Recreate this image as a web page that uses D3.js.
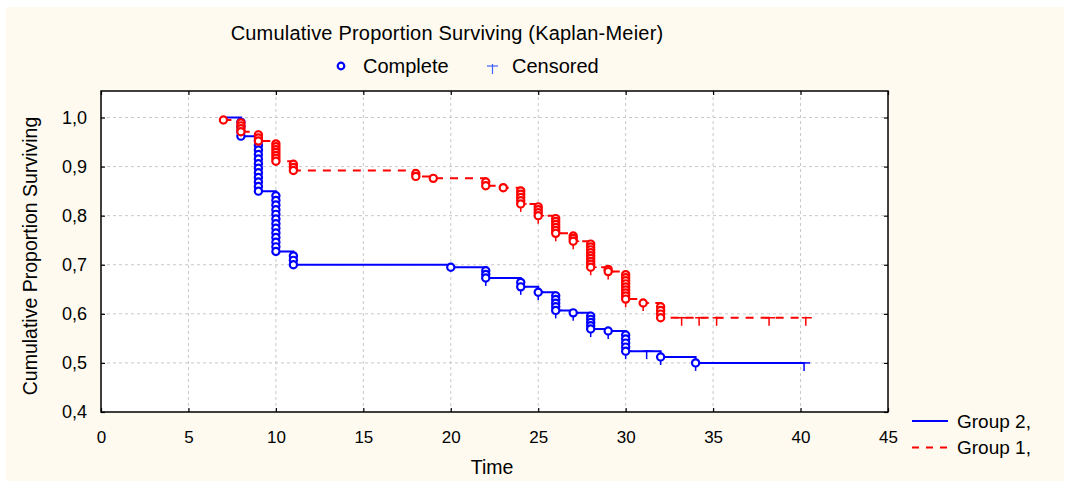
<!DOCTYPE html>
<html>
<head>
<meta charset="utf-8">
<script src="https://cdn.jsdelivr.net/npm/d3@7"></script>
<style>
  body { margin: 0; background: #ffffff; }
  text { font-family: "Liberation Sans", Arial, sans-serif; fill: #000; }
</style>
</head>
<body>
<div id="chart"></div>
<script>
// Group 2 (blue, solid) - step times, survival after the step, number of events at that time
const g2Times  = [7, 8, 9, 10, 11, 20, 22, 24, 25, 26, 27, 28, 29, 30, 32, 34];
const g2Surv   = [1.0, 0.962, 0.850, 0.727, 0.700, 0.695, 0.673, 0.655, 0.644, 0.607, 0.602, 0.569, 0.565, 0.524, 0.512, 0.500];
const g2Events = [0, 4, 12, 13, 3, 1, 3, 2, 1, 5, 1, 5, 1, 5, 1, 1];
const g2Censored = [22, 24, 25, 26, 27, 28, 29, 30, 31.2, 32, 34, 40.2];

// Group 1 (red, dashed)
const g1Times  = [7, 8, 9, 10, 11, 18, 19, 22, 23, 24, 25, 26, 27, 28, 29, 30, 31, 32];
const g1Surv   = [0.995, 0.971, 0.952, 0.911, 0.892, 0.880, 0.876, 0.861, 0.857, 0.824, 0.800, 0.764, 0.748, 0.695, 0.686, 0.630, 0.622, 0.592];
const g1Events = [1, 4, 3, 7, 3, 2, 1, 2, 1, 5, 4, 6, 3, 9, 2, 9, 1, 4];
const g1Censored = [24, 25, 26, 27, 28, 29, 30, 31, 33.2, 34.2, 35.2, 38.2, 40.3];

const xTicks = [0, 5, 10, 15, 20, 25, 30, 35, 40, 45];
const yTicks = [0.4, 0.5, 0.6, 0.7, 0.8, 0.9, 1.0];

const width = 1070, height = 488;
const plot = { left: 101, right: 888, top: 91, bottom: 412 };
const blue = "#0000ff", red = "#ff0000";

const svg = d3.select("#chart").append("svg")
    .attr("width", width)
    .attr("height", height);

// background panel
svg.append("rect")
    .attr("x", 6).attr("y", 7)
    .attr("width", 1058).attr("height", 474)
    .attr("fill", "#fefaef");

svg.append("rect")
    .attr("x", plot.left).attr("y", plot.top)
    .attr("width", plot.right - plot.left).attr("height", plot.bottom - plot.top)
    .attr("fill", "#ffffff");

const x = d3.scaleLinear().domain([0, 45]).range([plot.left, plot.right]);
const y = d3.scaleLinear().domain([0.4, 1.054]).range([plot.bottom, plot.top]);

// grid
svg.append("g").selectAll("line").data(xTicks.slice(1, -1)).join("line")
    .attr("x1", d => x(d)).attr("x2", d => x(d))
    .attr("y1", plot.top).attr("y2", plot.bottom)
    .attr("stroke", "#c8c8c8").attr("stroke-dasharray", "3,3");
svg.append("g").selectAll("line").data(yTicks.slice(1)).join("line")
    .attr("x1", plot.left).attr("x2", plot.right)
    .attr("y1", d => y(d)).attr("y2", d => y(d))
    .attr("stroke", "#c8c8c8").attr("stroke-dasharray", "3,3");

// axes
const fmt = d => d3.format(".1f")(d).replace(".", ",");
const xAxis = svg.append("g")
    .attr("transform", "translate(0," + plot.bottom + ")")
    .call(d3.axisBottom(x).tickValues(xTicks).tickSize(-4).tickPadding(19).tickFormat(d3.format("d")));
const xTop = svg.append("g")
    .attr("transform", "translate(0," + plot.top + ")")
    .call(d3.axisTop(x).tickValues(xTicks).tickSize(-4).tickFormat(""));
const yAxis = svg.append("g")
    .attr("transform", "translate(" + plot.left + ",0)")
    .call(d3.axisLeft(y).tickValues(yTicks).tickSize(-4).tickPadding(14).tickFormat(fmt));
const yRight = svg.append("g")
    .attr("transform", "translate(" + plot.right + ",0)")
    .call(d3.axisRight(y).tickValues(yTicks).tickSize(-4).tickFormat(""));

[xAxis, xTop, yAxis, yRight].forEach(a => {
    a.select(".domain").remove();
    a.selectAll(".tick line").attr("stroke", "#000").attr("stroke-width", 1.2);
});
xAxis.selectAll("text").style("font-size", "17px").attr("fill", "#000");
yAxis.selectAll("text").style("font-size", "18px").attr("fill", "#000");

// frame
svg.append("rect")
    .attr("x", plot.left).attr("y", plot.top)
    .attr("width", plot.right - plot.left).attr("height", plot.bottom - plot.top)
    .attr("fill", "none").attr("stroke", "#000").attr("stroke-width", 1.5);

// survival level at time t (after steps at or before t)
function levelAt(times, surv, t) {
    let s = 1.0;
    times.forEach((tt, i) => { if (tt <= t) s = surv[i]; });
    return s;
}

function drawGroup(times, surv, events, censored, color, dash) {
    const end = d3.max(censored);
    const pts = times.map((t, i) => [t, surv[i]]);
    pts.push([end, surv[surv.length - 1]]);

    const line = d3.line()
        .x(d => x(d[0])).y(d => y(d[1]))
        .curve(d3.curveStepAfter);

    svg.append("path")
        .datum(pts)
        .attr("d", line)
        .attr("fill", "none")
        .attr("stroke", color)
        .attr("stroke-width", 2)
        .attr("stroke-dasharray", dash);

    // censored marks
    const cg = svg.append("g").attr("stroke", color).attr("stroke-width", 1.5);
    censored.forEach(t => {
        const cx = x(t), cy = y(levelAt(times, surv, t));
        cg.append("line").attr("x1", cx - 4).attr("x2", cx + 6).attr("y1", cy).attr("y2", cy);
        cg.append("line").attr("x1", cx).attr("x2", cx).attr("y1", cy - 1).attr("y2", cy + 8);
    });

    // complete (event) circles, one per event, stacked down the step
    const circ = [];
    times.forEach((t, i) => {
        const prev = i === 0 ? 1.0 : surv[i - 1];
        const d = events[i];
        for (let k = 1; k <= d; k++) {
            circ.push([t, prev - k * (prev - surv[i]) / d]);
        }
    });
    svg.append("g").selectAll("circle").data(circ).join("circle")
        .attr("cx", d => x(d[0])).attr("cy", d => y(d[1]))
        .attr("r", 3.6)
        .attr("fill", "#ffffff")
        .attr("stroke", color)
        .attr("stroke-width", 2.2);
}

drawGroup(g2Times, g2Surv, g2Events, g2Censored, blue, null);
drawGroup(g1Times, g1Surv, g1Events, g1Censored, red, "8,7");

// titles
svg.append("text")
    .attr("x", 447).attr("y", 40)
    .attr("text-anchor", "middle")
    .style("font-size", "20px")
    .style("letter-spacing", "0.2px")
    .text("Cumulative Proportion Surviving (Kaplan-Meier)");

svg.append("text")
    .attr("transform", "translate(37,256) rotate(-90)")
    .attr("text-anchor", "middle")
    .style("font-size", "19.5px")
    .text("Cumulative Proportion Surviving");

svg.append("text")
    .attr("x", 492).attr("y", 474)
    .attr("text-anchor", "middle")
    .style("font-size", "19.5px")
    .text("Time");

// top legend
svg.append("circle")
    .attr("cx", 341).attr("cy", 66).attr("r", 3.3)
    .attr("fill", "#fff").attr("stroke", blue).attr("stroke-width", 2.2);
svg.append("text").attr("x", 363).attr("y", 73).style("font-size", "20px").text("Complete");
const lc = svg.append("g").attr("stroke", "#4060ff").attr("stroke-width", 1.2);
lc.append("line").attr("x1", 487).attr("x2", 498).attr("y1", 66).attr("y2", 66);
lc.append("line").attr("x1", 492.5).attr("x2", 492.5).attr("y1", 64).attr("y2", 74);
svg.append("text").attr("x", 512).attr("y", 73).style("font-size", "20px").text("Censored");

// group legend
const groups = [
    { name: "Group 2,", color: blue, dash: null },
    { name: "Group 1,", color: red, dash: "7,7" }
];
groups.forEach((g, i) => {
    const ly = 421 + i * 26.5;
    svg.append("line")
        .attr("x1", 912).attr("x2", 948).attr("y1", ly).attr("y2", ly)
        .attr("stroke", g.color).attr("stroke-width", 2)
        .attr("stroke-dasharray", g.dash);
    svg.append("text").attr("x", 957).attr("y", ly + 6.5)
        .style("font-size", "19px").text(g.name);
});
</script>
</body>
</html>
